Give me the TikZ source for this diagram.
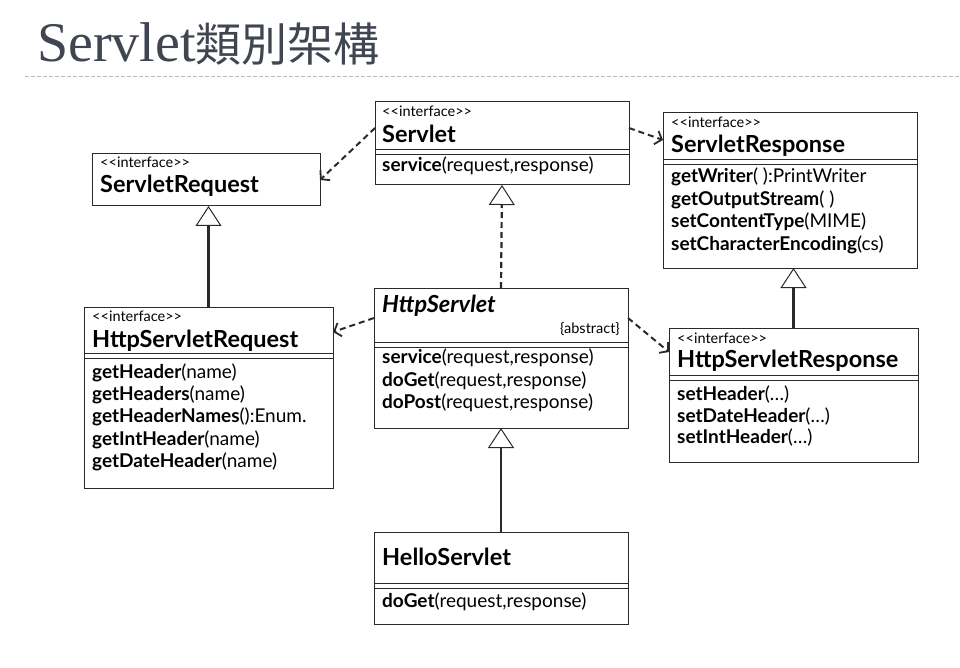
\documentclass[tikz,border=0pt]{standalone}
\usepackage{fontspec}
\setmainfont{Lato}
\newfontfamily\titlefont{Liberation Serif}
\newfontfamily\cjk{Noto Sans CJK TC}
\usetikzlibrary{arrows.meta}
\definecolor{titlegray}{HTML}{404552}
\definecolor{rulegray}{HTML}{BBBBBB}
\definecolor{linegray}{HTML}{2A2A2A}
\newcommand{\ifc}{<\kern0pt<interface>\kern0pt>}
\begin{document}
\begin{tikzpicture}[x=1pt,y=-1pt,
  cls/.style={draw=linegray, line width=1pt, fill=white, anchor=north west,
    inner sep=0pt, outer sep=0pt},
  stereo/.style={anchor=base west, inner sep=0pt, font=\fontsize{14.5}{14.5}\selectfont},
  cname/.style={anchor=base west, inner sep=0pt, font=\fontsize{23.5}{23.5}\selectfont\bfseries},
  meth/.style={anchor=base west, inner sep=0pt, font=\fontsize{19}{19}\selectfont},
  uses/.style={draw=linegray, line width=2pt, dash pattern=on 6pt off 4pt,
    -{Straight Barb[length=6pt,width=14pt,line width=1.8pt]}},
  isa/.style={draw=linegray, line width=2.2pt,
    -{Triangle[open,length=20pt,width=26pt,line width=1pt,fill=white]}}]
\useasboundingbox (0,0) rectangle (960,668);
% title
\node[anchor=base west, inner sep=0pt, text=titlegray] (title) at (37,62)
  {\titlefont\fontsize{56}{56}\selectfont Servlet\cjk\fontsize{46}{46}\selectfont 類別架構};
\draw[rulegray, line width=1pt, dash pattern=on 4pt off 2pt] (25,77) -- (960,77);

% class frames
\node[cls, minimum width=254pt, minimum height=83pt] (servlet) at (375,102) {};
\node[cls, minimum width=254pt, minimum height=155pt] (sresp) at (663,113) {};
\node[cls, minimum width=228pt, minimum height=52pt] (sreq) at (92,154) {};
\node[cls, minimum width=249pt, minimum height=181pt] (hsreq) at (84,307) {};
\node[cls, minimum width=254pt, minimum height=140pt] (hservlet) at (374,288) {};
\node[cls, minimum width=249pt, minimum height=134pt] (hsresp) at (669,328) {};
\node[cls, minimum width=254pt, minimum height=92pt] (hello) at (374,532) {};

% Servlet
\node[stereo] (servlet-st) at (382,117) {\ifc};
\node[cname] (servlet-n) at (382,143) {Servlet};
\draw[linegray] (servlet.west |- 0,149) -- (servlet.east |- 0,149)
  (servlet.west |- 0,154) -- (servlet.east |- 0,154);
\node[meth] (servlet-m1) at (382,172) {\textbf{service}(request,response)};

% ServletResponse
\node[stereo] (sresp-st) at (671,128) {\ifc};
\node[cname] (sresp-n) at (671,153) {ServletResponse};
\draw[linegray] (sresp.west |- 0,159) -- (sresp.east |- 0,159)
  (sresp.west |- 0,164) -- (sresp.east |- 0,164);
\node[meth] (sresp-m1) at (671,183) {\textbf{getWriter}( ):PrintWriter};
\node[meth] (sresp-m2) at (671,205.5) {\textbf{getOutputStream}( )};
\node[meth] (sresp-m3) at (671,228) {\textbf{setContentType}(MIME)};
\node[meth] (sresp-m4) at (671,250.5) {\textbf{setCharacterEncoding}(cs)};

% ServletRequest
\node[stereo] (sreq-st) at (100,168) {\ifc};
\node[cname] (sreq-n) at (100,193) {ServletRequest};

% HttpServletRequest
\node[stereo] (hsreq-st) at (92,321) {\ifc};
\node[cname] (hsreq-n) at (92,347) {HttpServletRequest};
\draw[linegray] (hsreq.west |- 0,353) -- (hsreq.east |- 0,353)
  (hsreq.west |- 0,358) -- (hsreq.east |- 0,358);
\node[meth] (hsreq-m1) at (92,378) {\textbf{getHeader}(name)};
\node[meth] (hsreq-m2) at (92,400) {\textbf{getHeaders}(name)};
\node[meth] (hsreq-m3) at (92,422.5) {\textbf{getHeaderNames}():Enum.};
\node[meth] (hsreq-m4) at (92,445) {\textbf{getIntHeader}(name)};
\node[meth] (hsreq-m5) at (92,467) {\textbf{getDateHeader}(name)};

% HttpServlet
\node[cname, font=\fontsize{23.5}{23.5}\selectfont\bfseries\itshape] (hservlet-n) at (382,312) {HttpServlet};
\node[stereo, anchor=base east] (hservlet-ab) at (620,333) {\{abstract\}};
\draw[linegray] (hservlet.west |- 0,342) -- (hservlet.east |- 0,342)
  (hservlet.west |- 0,347) -- (hservlet.east |- 0,347);
\node[meth] (hservlet-m1) at (382,363) {\textbf{service}(request,response)};
\node[meth] (hservlet-m2) at (382,386) {\textbf{doGet}(request,response)};
\node[meth] (hservlet-m3) at (382,408) {\textbf{doPost}(request,response)};

% HttpServletResponse
\node[stereo] (hsresp-st) at (677,343) {\ifc};
\node[cname] (hsresp-n) at (677,367) {HttpServletResponse};
\draw[linegray] (hsresp.west |- 0,375) -- (hsresp.east |- 0,375)
  (hsresp.west |- 0,380) -- (hsresp.east |- 0,380);
\node[meth] (hsresp-m1) at (677,400) {\textbf{setHeader}(\dots)};
\node[meth] (hsresp-m2) at (677,422) {\textbf{setDateHeader}(\dots)};
\node[meth] (hsresp-m3) at (677,443) {\textbf{setIntHeader}(\dots)};

% HelloServlet
\node[cname] (hello-n) at (382,565) {HelloServlet};
\draw[linegray] (hello.west |- 0,583) -- (hello.east |- 0,583)
  (hello.west |- 0,588) -- (hello.east |- 0,588);
\node[meth] (hello-m1) at (382,607) {\textbf{doGet}(request,response)};

% dependencies
\draw[uses] ([yshift=-26pt]servlet.north west) -- ([yshift=-26pt]sreq.north east);
\draw[uses] ([yshift=-26pt]servlet.north east) -- ([yshift=-27pt]sresp.north west);
\draw[uses] ([yshift=-30pt]hservlet.north west) -- ([yshift=-25pt]hsreq.north east);
\draw[uses] ([yshift=-30pt]hservlet.north east) -- ([yshift=-24pt]hsresp.north west);

% generalization
\draw[isa, dash pattern=on 6pt off 4pt] (hservlet.north) -- (servlet.south);
\draw[isa] (hsreq.north) -- (hsreq.north |- sreq.south);
\draw[isa] (hsresp.north) -- (hsresp.north |- sresp.south);
\draw[isa] (hello.north) -- (hservlet.south);
\end{tikzpicture}
\end{document}
